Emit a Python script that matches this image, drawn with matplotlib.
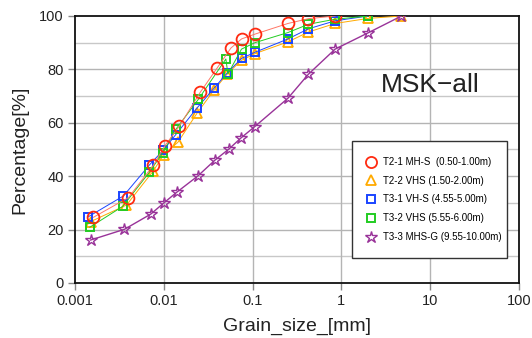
import matplotlib
matplotlib.use("Agg")
import matplotlib.pyplot as plt
from matplotlib.ticker import FixedLocator, NullLocator
from matplotlib.lines import Line2D
from matplotlib.patches import Rectangle

plt.rcParams['font.family'] = ['Liberation Sans', 'DejaVu Sans']

# ---- data ----
t21_x = [0.00161, 0.0040, 0.00763, 0.0103, 0.0150, 0.0257, 0.0402, 0.0570, 0.075, 0.106, 0.25, 0.425, 0.85]
t21_y = [24.6, 32.0, 44.1, 51.4, 58.8, 71.4, 80.7, 88.0, 91.4, 93.2, 97.2, 99.0, 100.0]

t22_x = [0.00150, 0.0038, 0.00763, 0.00995, 0.0144, 0.0239, 0.0369, 0.0521, 0.075, 0.106, 0.25, 0.425, 0.85, 2.0, 4.75]
t22_y = [23.0, 29.2, 42.0, 48.0, 52.7, 63.8, 72.3, 78.4, 83.4, 85.9, 90.3, 94.0, 97.2, 99.1, 100.0]

t31_x = [0.00141, 0.00351, 0.00688, 0.00989, 0.01365, 0.0236, 0.0369, 0.0521, 0.075, 0.106, 0.25, 0.425, 0.85, 2.0]
t31_y = [24.8, 32.6, 44.2, 49.8, 55.6, 65.5, 73.0, 78.8, 84.1, 86.4, 91.4, 95.2, 98.2, 100.0]

t32_x = [0.00147, 0.00345, 0.00688, 0.00975, 0.01377, 0.0245, 0.0500, 0.0527, 0.075, 0.106, 0.25, 0.425, 0.85, 2.0]
t32_y = [20.9, 28.7, 41.5, 48.8, 57.7, 68.8, 83.9, 78.3, 87.6, 90.0, 93.8, 96.9, 98.8, 100.0]

t33_x = [0.00150, 0.0036, 0.00713, 0.0101, 0.0140, 0.0242, 0.0379, 0.0538, 0.0744, 0.106, 0.25, 0.425, 0.85, 2.0, 4.75]
t33_y = [16.1, 20.1, 25.8, 30.1, 34.0, 40.1, 46.1, 50.1, 54.4, 58.6, 69.2, 78.2, 87.6, 93.7, 100.0]

labels = ["T2-1 MH-S  (0.50-1.00m)", "T2-2 VHS (1.50-2.00m)", "T3-1 VH-S (4.55-5.00m)",
          "T3-2 VHS (5.55-6.00m)", "T3-3 MHS-G (9.55-10.00m)"]
x_ticks = [0.001, 0.01, 0.1, 1, 10, 100]
x_ticklabels = ["0.001", "0.01", "0.1", "1", "10", "100"]
y_ticks = [0, 20, 40, 60, 80, 100]

fig = plt.figure(figsize=(5.32, 3.38), dpi=100)
ax = fig.add_axes([75/532, 1-283/338, 444/532, 267/338])

ax.set_xscale('log')
ax.set_xlim(0.001, 100)
ax.set_ylim(0, 100)

# grid
for yv in range(10, 100, 10):
    ax.axhline(yv, color='#c8c8c8' if yv % 20 else '#b4b4b4', lw=1.0, zorder=0)
for xv in x_ticks[1:-1]:
    ax.axvline(xv, color='#b4b4b4', lw=1.0, zorder=0)

red = '#ff2a10'
orange = '#ffaa00'
blue = '#1a44ff'
green = '#22cc22'
purple = '#993399'

ax.plot(t22_x, t22_y, color=orange, lw=0.7, marker='^', ms=7, mfc='none', mec=orange, mew=1.3, zorder=3)
ax.plot(t31_x, t31_y, color=blue, lw=0.7, marker='s', ms=6, mfc='none', mec=blue, mew=1.4, zorder=4)
ax.plot(t32_x, t32_y, color=green, lw=0.7, marker='s', ms=6, mfc='none', mec=green, mew=1.4, zorder=4)
ax.plot(t21_x, t21_y, color='#ff7766', lw=0.7, marker='o', ms=8.5, mfc='none', mec=red, mew=1.3, zorder=5)
ax.plot(t33_x, t33_y, color=purple, lw=1.0, marker='*', ms=9, mfc='none', mec=purple, mew=1.0, zorder=6)

ax.xaxis.set_major_locator(FixedLocator(x_ticks))
ax.xaxis.set_minor_locator(NullLocator())
ax.set_xticklabels(x_ticklabels)
ax.set_yticks(y_ticks)
ax.tick_params(axis='both', direction='out', length=5, width=1, color='#888888',
               labelsize=10.5, labelcolor='#222222', pad=3)

for s in ax.spines.values():
    s.set_color('#111111')
    s.set_linewidth(1.3)

ax.set_xlabel("Grain_size_[mm]", fontsize=14, color='#222222', labelpad=7)
ax.set_ylabel("Percentage[%]", fontsize=14, color='#222222', labelpad=8)

ax.text(0.8, 0.742, "MSK\u2212all", transform=ax.transAxes, fontsize=19,
        color='#222222', ha='center', va='center')

# legend frame drawn as a rectangle
ax.add_patch(Rectangle((0.624, 0.094), 0.349, 0.438, transform=ax.transAxes,
                       facecolor='white', edgecolor='#333333', lw=1.0, zorder=9))

handles = [
    Line2D([], [], ls='none', marker='o', ms=8, mfc='none', mec=red, mew=1.3),
    Line2D([], [], ls='none', marker='^', ms=7, mfc='none', mec=orange, mew=1.3),
    Line2D([], [], ls='none', marker='s', ms=6, mfc='none', mec=blue, mew=1.4),
    Line2D([], [], ls='none', marker='s', ms=6, mfc='none', mec=green, mew=1.4),
    Line2D([], [], ls='none', marker='*', ms=9, mfc='none', mec=purple, mew=1.0),
]
leg = ax.legend(handles, labels, loc='upper left', bbox_to_anchor=(0.652, 0.472),
                fontsize=7, frameon=False, borderpad=0, labelspacing=0.9,
                handletextpad=0.6, handlelength=1.3, borderaxespad=0)
leg.set_zorder(10)

fig.savefig("out.png", dpi=100)
